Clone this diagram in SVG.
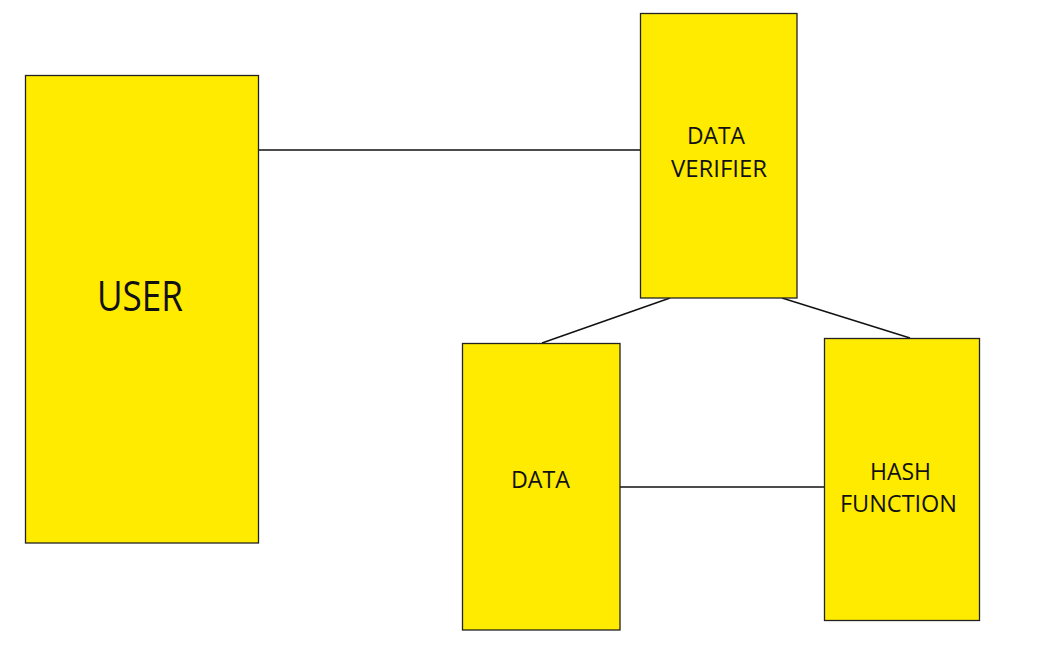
<svg xmlns="http://www.w3.org/2000/svg" width="1059" height="656" viewBox="0 0 1059 656">
<style>
.box{fill:#ffeb00;stroke:#222;stroke-width:1.3}
.lbl{font-family:"Open Sans","Liberation Sans",sans-serif;fill:#111;text-anchor:middle}
.conn line{stroke:#111;stroke-width:1.4}
</style>
<rect width="1059" height="656" fill="#fff"/>
<g class="conn">
<line x1="258.5" y1="150" x2="640.5" y2="150"/>
<line x1="670" y1="298" x2="542" y2="343"/>
<line x1="782" y1="298" x2="910" y2="338"/>
<line x1="620" y1="487" x2="824" y2="487"/>
</g>
<g id="user"><rect class="box" x="25.5" y="75.5" width="233" height="467.5"/>
<text class="lbl" x="140" y="311" font-size="42" textLength="86" lengthAdjust="spacingAndGlyphs">USER</text></g>
<g id="verifier"><rect class="box" x="640.5" y="13.5" width="156.5" height="284.5"/>
<text class="lbl" x="716" y="144" font-size="24" textLength="58" lengthAdjust="spacingAndGlyphs">DATA</text>
<text class="lbl" x="719" y="177" font-size="24" textLength="96" lengthAdjust="spacingAndGlyphs">VERIFIER</text></g>
<g id="data"><rect class="box" x="462.5" y="343.5" width="157.5" height="286.5"/>
<text class="lbl" x="540.5" y="488" font-size="24" textLength="59" lengthAdjust="spacingAndGlyphs">DATA</text></g>
<g id="hash"><rect class="box" x="824.5" y="338.5" width="155" height="282"/>
<text class="lbl" x="900.5" y="480" font-size="24" textLength="61" lengthAdjust="spacingAndGlyphs">HASH</text>
<text class="lbl" x="898.5" y="512" font-size="24" textLength="117" lengthAdjust="spacingAndGlyphs">FUNCTION</text></g>
</svg>
